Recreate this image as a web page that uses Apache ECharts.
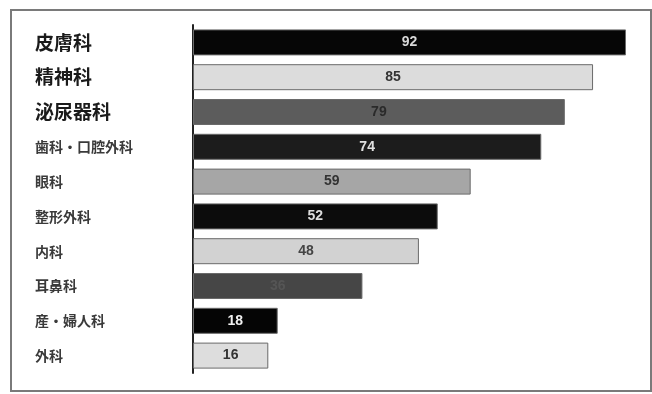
<!DOCTYPE html>
<html lang="ja">
<head>
  <meta charset="UTF-8">
  <title>診療科別</title>
  <script src="https://cdn.jsdelivr.net/npm/echarts@6/dist/echarts.min.js"></script>
  <style>
    html, body { margin: 0; padding: 0; background: #fff; }
    #chart { width: 652px; height: 394px; }
  </style>
</head>
<body>
<div id="chart"></div>
<script>
// 診療科（上から順）
var categories = ['皮膚科', '精神科', '泌尿器科', '歯科・口腔外科', '眼科', '整形外科', '内科', '耳鼻科', '産・婦人科', '外科'];
var values = [92, 85, 79, 74, 59, 52, 48, 36, 18, 16];
// 上位3つは太字で大きく
var boldCount = 3;

var fills = ['#060606', '#dcdcdc', '#5c5c5c', '#1c1c1c', '#a6a6a6', '#0c0c0c', '#d2d2d2', '#464646', '#050505', '#dddddd'];
var labelColors = ['#d8d8d8', '#333', '#2a2a2a', '#e0e0e0', '#333', '#dcdcdc', '#444', '#555', '#f0f0f0', '#333'];

var chart = echarts.init(document.getElementById('chart'));

var barData = values.map(function (v, i) {
  return {
    value: v,
    itemStyle: { color: fills[i], borderColor: '#6a6a6a', borderWidth: 1 },
    label: { color: labelColors[i] }
  };
});

chart.setOption({
  animation: false,
  graphic: [{
    type: 'rect',
    shape: { x: 11, y: 10, width: 640, height: 381 },
    style: { fill: 'none', stroke: '#7a7a7a', lineWidth: 2 }
  }],
  grid: { left: 193, right: 26, top: 25, bottom: 21, containLabel: false },
  xAxis: { type: 'value', min: 0, max: 92, show: false },
  yAxis: {
    type: 'category',
    data: categories,
    inverse: true,
    axisLine: { show: true, lineStyle: { color: '#222', width: 2 } },
    axisTick: { show: false },
    axisLabel: {
      align: 'left',
      margin: 158,
      formatter: function (v) {
        return categories.indexOf(v) < boldCount ? '{b|' + v + '}' : '{n|' + v + '}';
      },
      rich: {
        b: { fontSize: 19, fontWeight: 'bold', color: '#1a1a1a', fontFamily: 'Noto Sans CJK JP' },
        n: { fontSize: 14, fontWeight: 'bold', color: '#3a3a3a', fontFamily: 'Noto Sans CJK JP' }
      }
    }
  },
  series: [{
    type: 'bar',
    data: barData,
    barWidth: 26,
    label: {
      show: true,
      position: 'inside',
      fontSize: 14,
      fontFamily: 'Liberation Sans Narrow, Liberation Sans, sans-serif',
      fontWeight: 'bold'
    }
  }]
});
</script>
</body>
</html>
